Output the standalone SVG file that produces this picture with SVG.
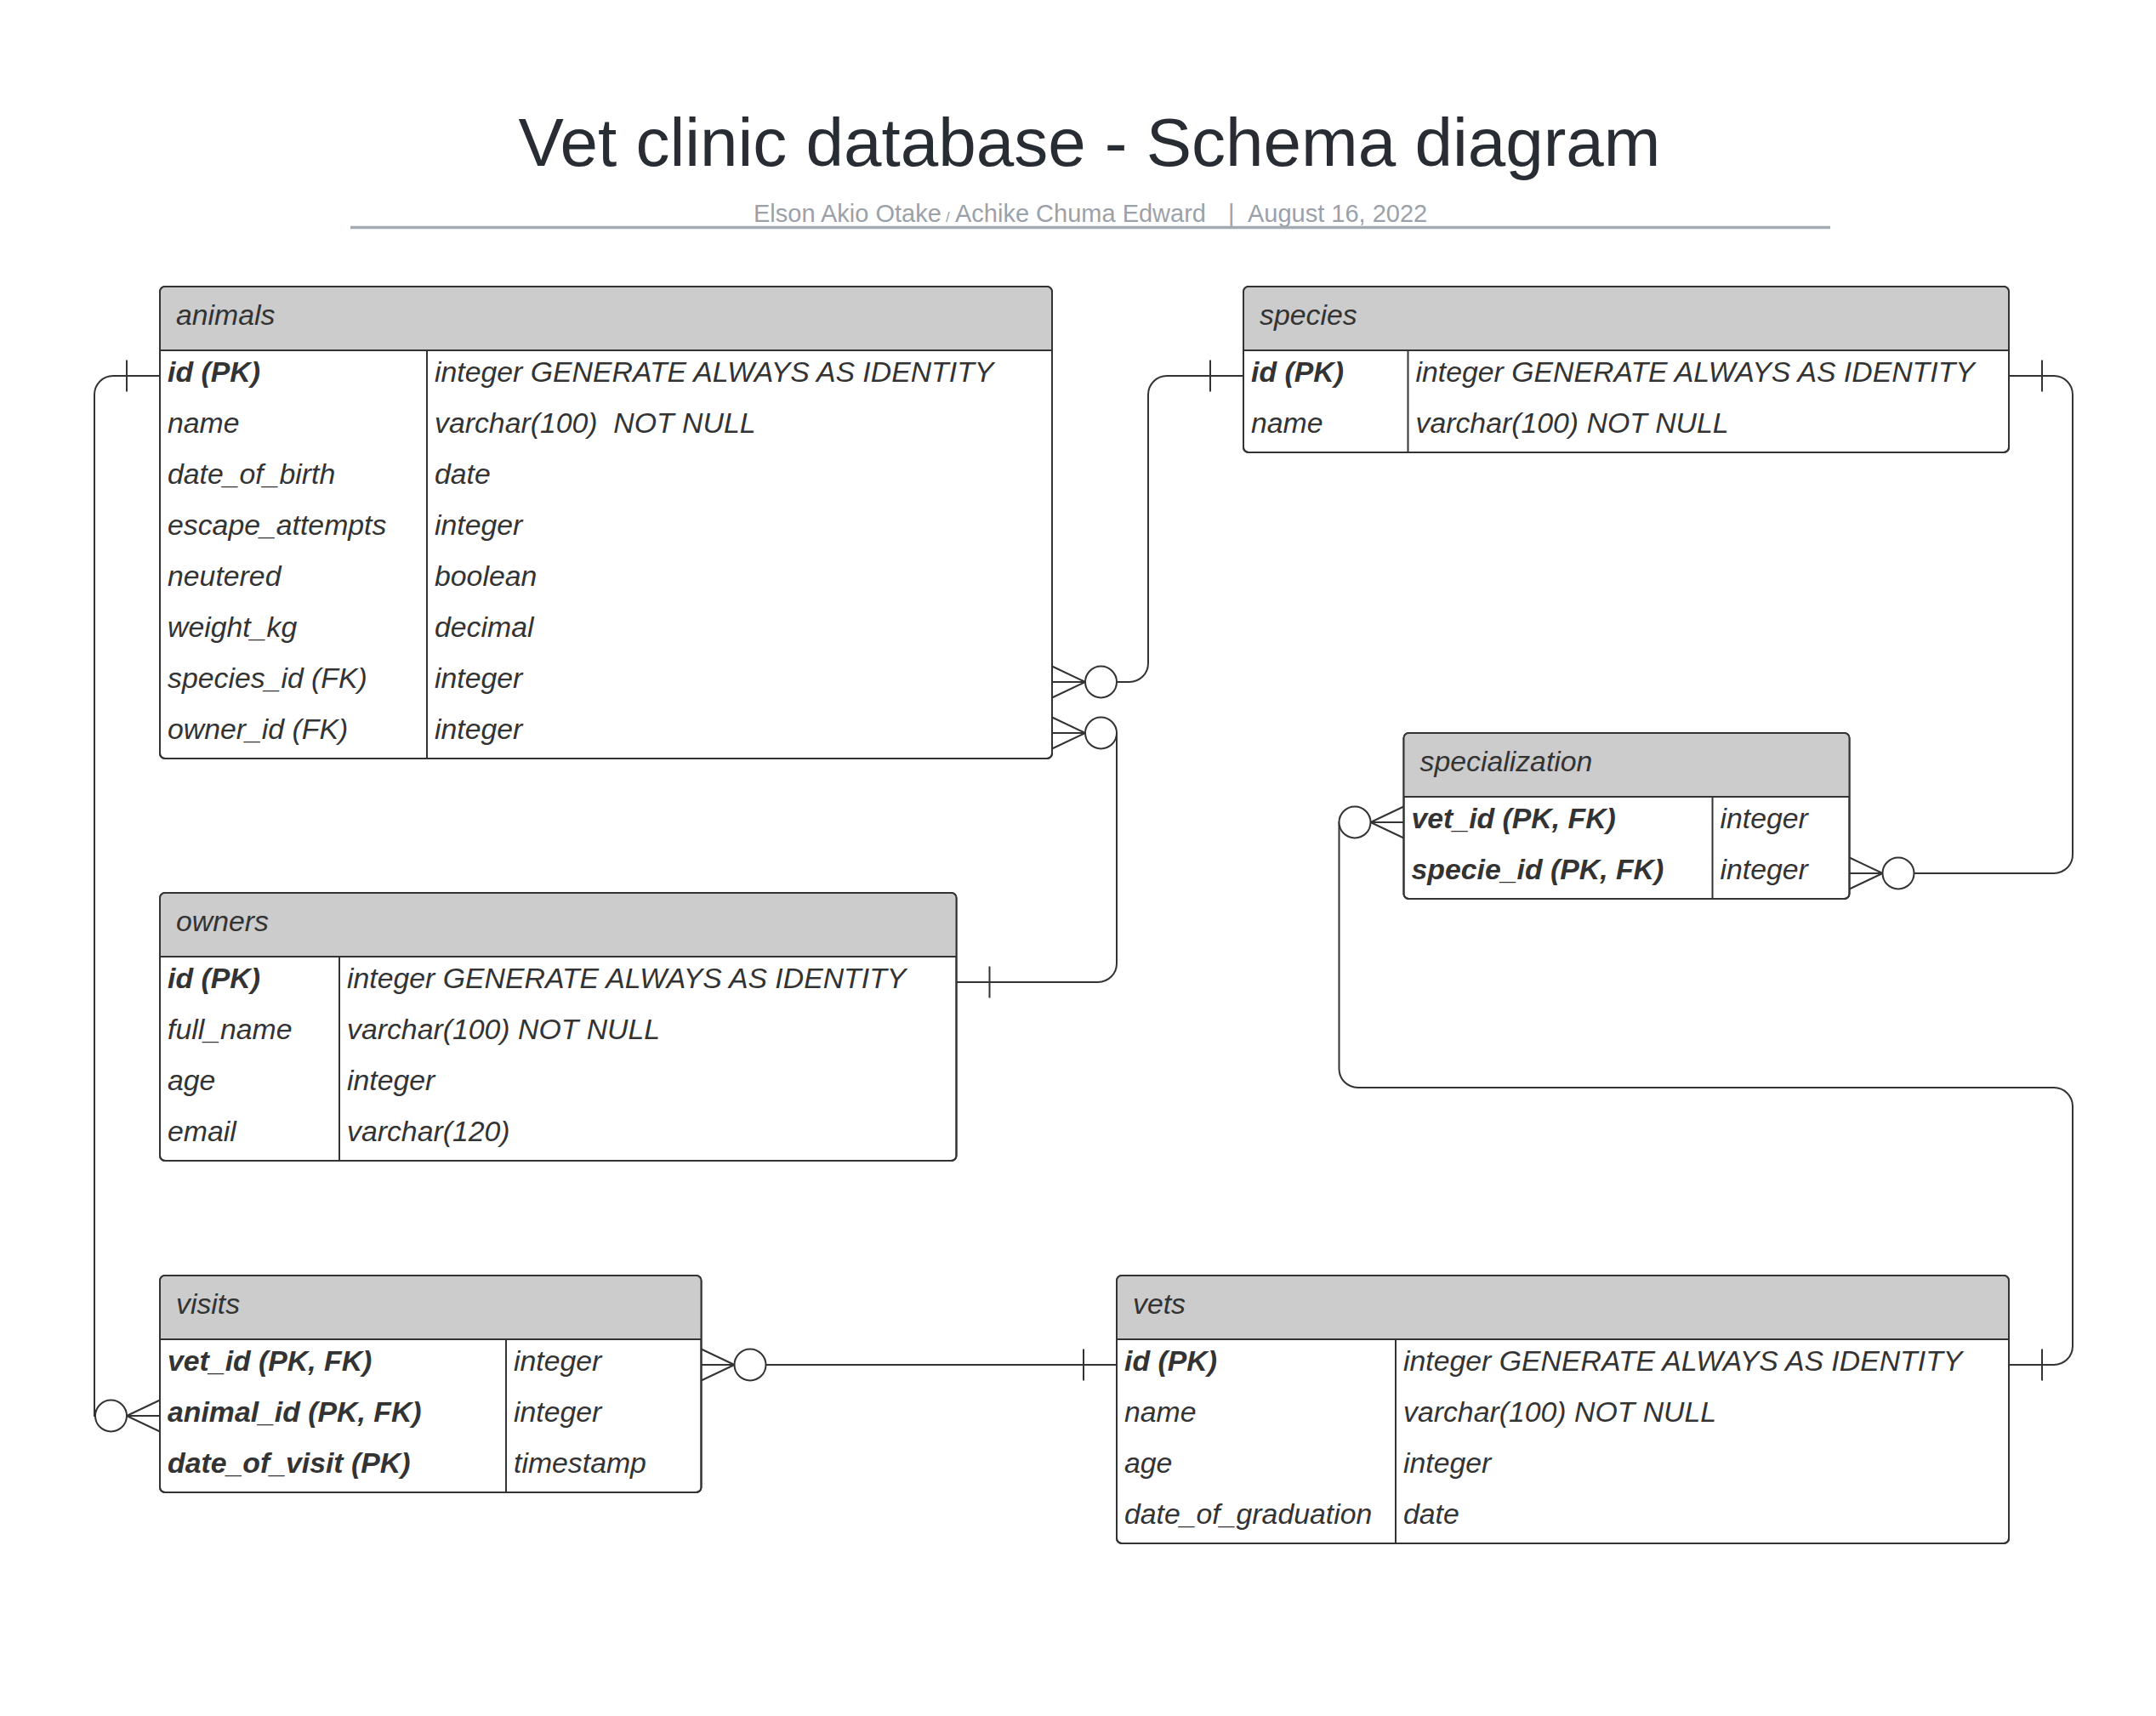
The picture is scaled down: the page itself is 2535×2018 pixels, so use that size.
<svg xmlns="http://www.w3.org/2000/svg" xmlns:xlink="http://www.w3.org/1999/xlink" width="2535" height="2018" viewBox="0 0 2535 2018">
<style>
.box{fill:#ffffff;stroke:#333333;stroke-width:2}
.frame{fill:none;stroke:#333333;stroke-width:2}
.hdr{fill:#cccccc}
.ln{stroke:#333333;stroke-width:2}
.t{font-family:'Liberation Sans',Arial,sans-serif;font-size:33.8px;font-style:italic;fill:#333333;white-space:pre}
.b{font-weight:bold}
.conn{fill:none;stroke:#333333;stroke-width:2}
.title{font-family:'Liberation Sans',Arial,sans-serif;font-size:80px;fill:#282c33}
.sub{font-family:'Liberation Sans',Arial,sans-serif;font-size:29px;fill:#9ba1a9}
</style>
<defs>
<g id="many">
<path class="conn" d="M0,-18.5 L39,0 M0,0 H39 M0,18.5 L39,0"/>
<circle cx="57.5" cy="0" r="18.5" fill="#ffffff" stroke="#333333" stroke-width="2"/>
</g>
<g id="one">
<path class="conn" d="M0,0 H39 M39,-18.5 V18.5"/>
</g>
</defs>
<rect width="2535" height="2018" fill="#ffffff"/>

<g id="title">
<text class="title" x="1281" y="195" text-anchor="middle">Vet clinic database - Schema diagram</text>
<text class="sub" x="886" y="260.5">Elson Akio Otake</text>
<text class="sub" x="1112" y="260.5" style="font-size:17px">/</text>
<text class="sub" x="1123" y="260.5">Achike Chuma Edward</text>
<text class="sub" x="1444" y="260.5">|</text>
<text class="sub" x="1467" y="260.5">August 16, 2022</text>
<line x1="412" y1="267.5" x2="2152" y2="267.5" stroke="#a5abb3" stroke-width="3.5"/>
</g>

<g id="connectors">
<path class="conn" d="M188,442 H133 A22,22 0 0 0 111,464 V1665 H188"/>
<path class="conn" d="M1237,802 H1328 A22,22 0 0 0 1350,780 V464 A22,22 0 0 1 1372,442 H1462"/>
<path class="conn" d="M1237,862 H1313 V1133 A22,22 0 0 1 1291,1155 H1124.5"/>
<path class="conn" d="M824.5,1605 H1313"/>
<path class="conn" d="M2362,1605 H2415 A22,22 0 0 0 2437,1583 V1301 A22,22 0 0 0 2415,1279 H1596.5 A22,22 0 0 1 1574.5,1257 V967 H1650.5"/>
<path class="conn" d="M2362,442 H2415 A22,22 0 0 1 2437,464 V1005 A22,22 0 0 1 2415,1027 H2174.5"/>
<use href="#one" transform="translate(188,442) scale(-1,1)"/>
<use href="#many" transform="translate(188,1665) scale(-1,1)"/>
<use href="#many" transform="translate(1237,802)"/>
<use href="#one" transform="translate(1462,442) scale(-1,1)"/>
<use href="#many" transform="translate(1237,862)"/>
<use href="#one" transform="translate(1124.5,1155)"/>
<use href="#many" transform="translate(824.5,1605)"/>
<use href="#one" transform="translate(1313,1605) scale(-1,1)"/>
<use href="#one" transform="translate(2362,1605)"/>
<use href="#many" transform="translate(1650.5,967) scale(-1,1)"/>
<use href="#one" transform="translate(2362,442)"/>
<use href="#many" transform="translate(2174.5,1027)"/>
</g>

<g id="animals">
<rect class="box" x="188" y="337" width="1049" height="555" rx="6"/>
<path class="hdr" d="M188,412 V343 Q188,337 194,337 H1231 Q1237,337 1237,343 V412 Z"/>
<line class="ln" x1="188" y1="412" x2="1237" y2="412"/>
<line class="ln" x1="502" y1="412" x2="502" y2="892"/>
<rect class="frame" x="188" y="337" width="1049" height="555" rx="6"/>
<text class="t" x="207" y="381.5">animals</text>
<text class="t b" x="197" y="449">id (PK)</text>
<text class="t" x="511" y="449">integer GENERATE ALWAYS AS IDENTITY</text>
<text class="t" x="197" y="509">name</text>
<text class="t" x="511" y="509">varchar(100)  NOT NULL</text>
<text class="t" x="197" y="569">date_of_birth</text>
<text class="t" x="511" y="569">date</text>
<text class="t" x="197" y="629">escape_attempts</text>
<text class="t" x="511" y="629">integer</text>
<text class="t" x="197" y="689">neutered</text>
<text class="t" x="511" y="689">boolean</text>
<text class="t" x="197" y="749">weight_kg</text>
<text class="t" x="511" y="749">decimal</text>
<text class="t" x="197" y="809">species_id (FK)</text>
<text class="t" x="511" y="809">integer</text>
<text class="t" x="197" y="869">owner_id (FK)</text>
<text class="t" x="511" y="869">integer</text>
</g>

<g id="species">
<rect class="box" x="1462" y="337" width="900" height="195" rx="6"/>
<path class="hdr" d="M1462,412 V343 Q1462,337 1468,337 H2356 Q2362,337 2362,343 V412 Z"/>
<line class="ln" x1="1462" y1="412" x2="2362" y2="412"/>
<line class="ln" x1="1655.5" y1="412" x2="1655.5" y2="532"/>
<rect class="frame" x="1462" y="337" width="900" height="195" rx="6"/>
<text class="t" x="1481" y="381.5">species</text>
<text class="t b" x="1471" y="449">id (PK)</text>
<text class="t" x="1664.5" y="449">integer GENERATE ALWAYS AS IDENTITY</text>
<text class="t" x="1471" y="509">name</text>
<text class="t" x="1664.5" y="509">varchar(100) NOT NULL</text>
</g>

<g id="specialization">
<rect class="box" x="1650.5" y="862" width="524" height="195" rx="6"/>
<path class="hdr" d="M1650.5,937 V868 Q1650.5,862 1656.5,862 H2168.5 Q2174.5,862 2174.5,868 V937 Z"/>
<line class="ln" x1="1650.5" y1="937" x2="2174.5" y2="937"/>
<line class="ln" x1="2013.5" y1="937" x2="2013.5" y2="1057"/>
<rect class="frame" x="1650.5" y="862" width="524" height="195" rx="6"/>
<text class="t" x="1669.5" y="906.5">specialization</text>
<text class="t b" x="1659.5" y="974">vet_id (PK, FK)</text>
<text class="t" x="2022.5" y="974">integer</text>
<text class="t b" x="1659.5" y="1034">specie_id (PK, FK)</text>
<text class="t" x="2022.5" y="1034">integer</text>
</g>

<g id="owners">
<rect class="box" x="188" y="1050" width="936.5" height="315" rx="6"/>
<path class="hdr" d="M188,1125 V1056 Q188,1050 194,1050 H1118.5 Q1124.5,1050 1124.5,1056 V1125 Z"/>
<line class="ln" x1="188" y1="1125" x2="1124.5" y2="1125"/>
<line class="ln" x1="399" y1="1125" x2="399" y2="1365"/>
<rect class="frame" x="188" y="1050" width="936.5" height="315" rx="6"/>
<text class="t" x="207" y="1094.5">owners</text>
<text class="t b" x="197" y="1162">id (PK)</text>
<text class="t" x="408" y="1162">integer GENERATE ALWAYS AS IDENTITY</text>
<text class="t" x="197" y="1222">full_name</text>
<text class="t" x="408" y="1222">varchar(100) NOT NULL</text>
<text class="t" x="197" y="1282">age</text>
<text class="t" x="408" y="1282">integer</text>
<text class="t" x="197" y="1342">email</text>
<text class="t" x="408" y="1342">varchar(120)</text>
</g>

<g id="visits">
<rect class="box" x="188" y="1500" width="636.5" height="255" rx="6"/>
<path class="hdr" d="M188,1575 V1506 Q188,1500 194,1500 H818.5 Q824.5,1500 824.5,1506 V1575 Z"/>
<line class="ln" x1="188" y1="1575" x2="824.5" y2="1575"/>
<line class="ln" x1="595" y1="1575" x2="595" y2="1755"/>
<rect class="frame" x="188" y="1500" width="636.5" height="255" rx="6"/>
<text class="t" x="207" y="1544.5">visits</text>
<text class="t b" x="197" y="1612">vet_id (PK, FK)</text>
<text class="t" x="604" y="1612">integer</text>
<text class="t b" x="197" y="1672">animal_id (PK, FK)</text>
<text class="t" x="604" y="1672">integer</text>
<text class="t b" x="197" y="1732">date_of_visit (PK)</text>
<text class="t" x="604" y="1732">timestamp</text>
</g>

<g id="vets">
<rect class="box" x="1313" y="1500" width="1049" height="315" rx="6"/>
<path class="hdr" d="M1313,1575 V1506 Q1313,1500 1319,1500 H2356 Q2362,1500 2362,1506 V1575 Z"/>
<line class="ln" x1="1313" y1="1575" x2="2362" y2="1575"/>
<line class="ln" x1="1641" y1="1575" x2="1641" y2="1815"/>
<rect class="frame" x="1313" y="1500" width="1049" height="315" rx="6"/>
<text class="t" x="1332" y="1544.5">vets</text>
<text class="t b" x="1322" y="1612">id (PK)</text>
<text class="t" x="1650" y="1612">integer GENERATE ALWAYS AS IDENTITY</text>
<text class="t" x="1322" y="1672">name</text>
<text class="t" x="1650" y="1672">varchar(100) NOT NULL</text>
<text class="t" x="1322" y="1732">age</text>
<text class="t" x="1650" y="1732">integer</text>
<text class="t" x="1322" y="1792">date_of_graduation</text>
<text class="t" x="1650" y="1792">date</text>
</g>
</svg>
